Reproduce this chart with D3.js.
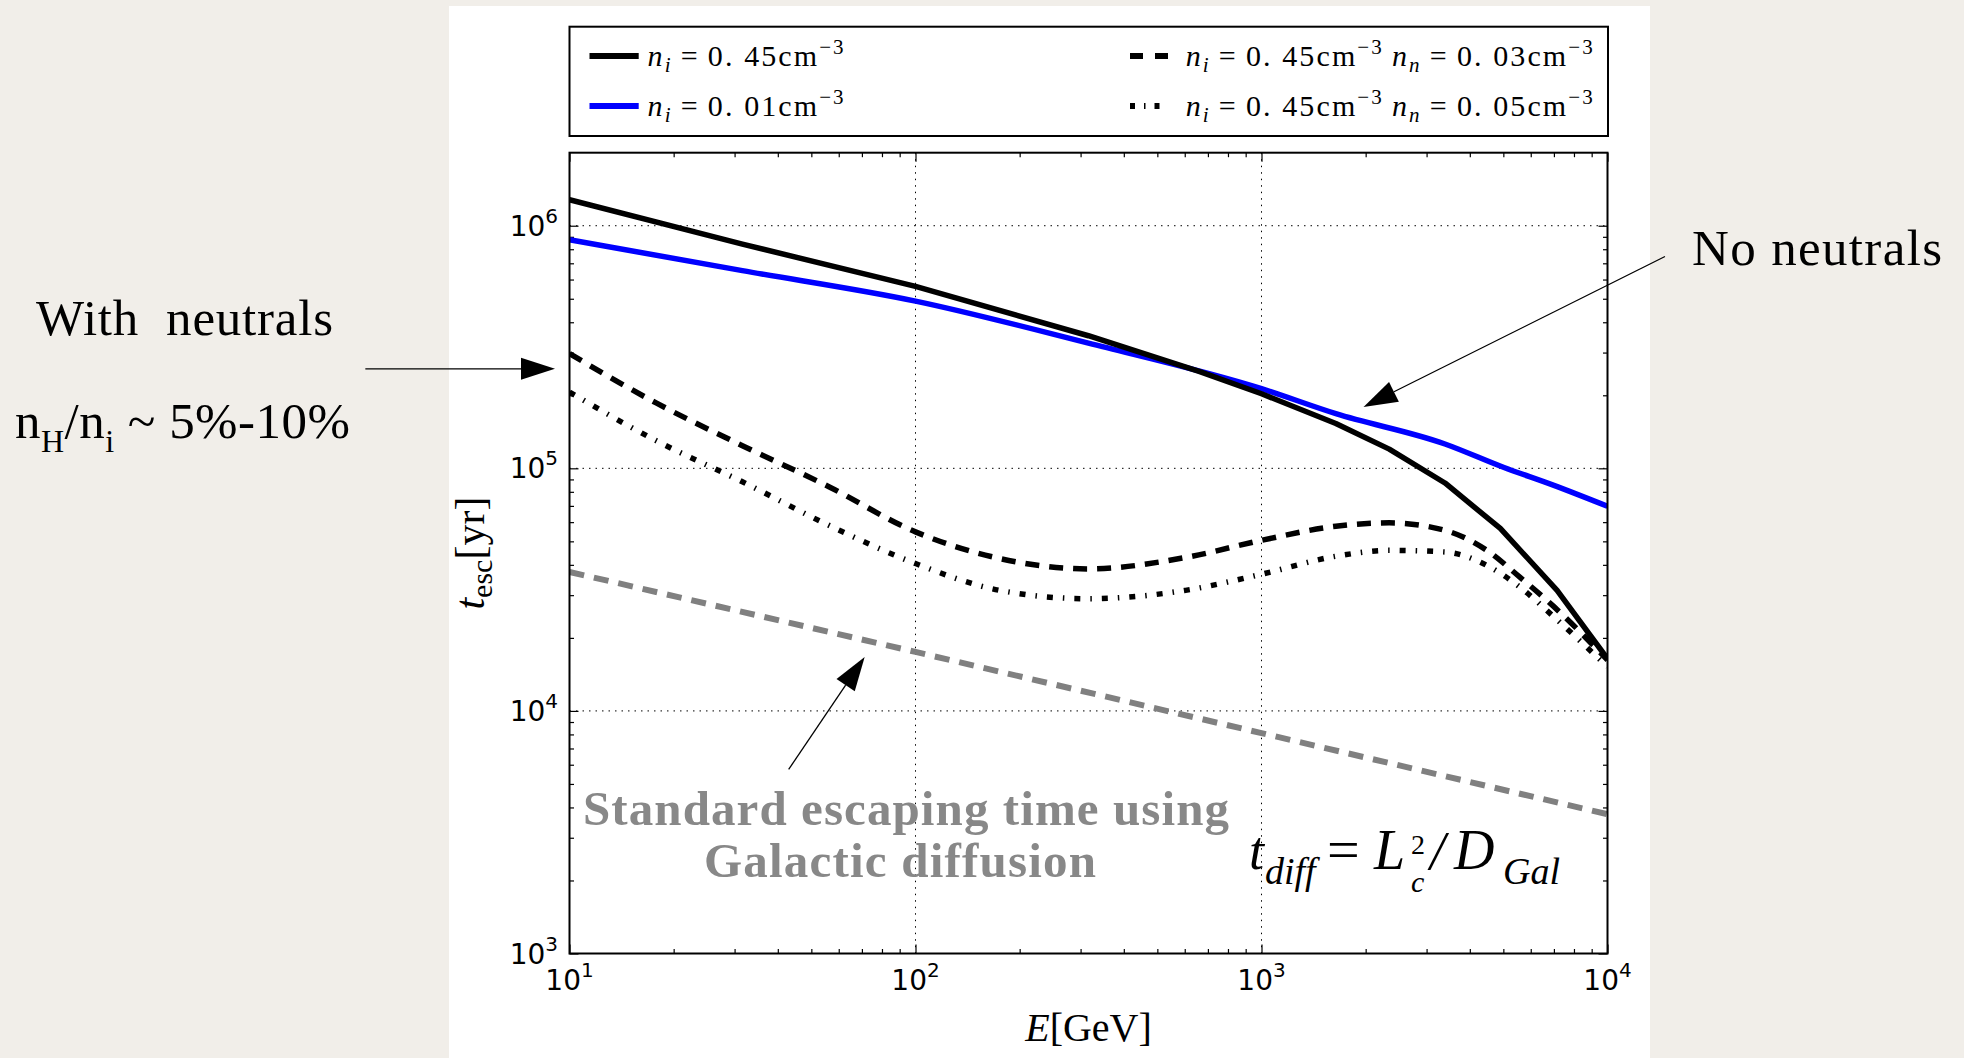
<!DOCTYPE html>
<html><head><meta charset="utf-8">
<script src="https://cdn.jsdelivr.net/npm/d3@7"></script>
<style>
html,body{margin:0;padding:0;background:#f1eee9;}
svg{display:block;}
</style>
</head><body>
<svg id="chart" width="1964" height="1058"></svg>
<script>
// ---------------- data ----------------
const energyNoNeutralDense = [10, 31.6, 100, 316, 660, 1000, 1640, 2340, 3390, 4900, 7150, 10000];
const tescNi045 = [1.28e6, 8.4e5, 5.62e5, 3.52e5, 2.51e5, 2.03e5, 1.53e5, 1.2e5, 8.7e4, 5.65e4, 3.14e4, 1.64e4];
const energyNoNeutralTenuous = [10, 31.6, 100, 316, 1000, 1640, 3390, 5000, 7000, 10000];
const tescNi001 = [8.75e5, 6.53e5, 4.89e5, 3.28e5, 2.13e5, 1.68e5, 1.26e5, 1.01e5, 8.5e4, 6.97e4];
const energyWithNeutrals = [10, 17.8, 31.6, 56.2, 100, 175, 316, 603, 1000, 1640, 2340, 3390, 4480, 5580, 7000, 10000];
const tescNn003 = [2.97e5, 1.86e5, 1.24e5, 8.4e4, 5.47e4, 4.25e4, 3.85e4, 4.29e4, 5.05e4, 5.77e4, 5.96e4, 5.55e4, 4.59e4, 3.56e4, 2.69e4, 1.62e4];
const tescNn005 = [2.06e5, 1.30e5, 8.8e4, 5.82e4, 4.05e4, 3.14e4, 2.9e4, 3.14e4, 3.66e4, 4.34e4, 4.59e4, 4.52e4, 3.98e4, 3.24e4, 2.44e4, 1.52e4];
const energyGalactic = [10, 100, 1000, 10000];
const tescGalactic = [3.74e4, 1.75e4, 8.1e3, 3.75e3];

const xTickValues = [10, 100, 1000, 10000];
const xTickExponents = ["1", "2", "3", "4"];
const yTickValues = [1e3, 1e4, 1e5, 1e6];
const yTickExponents = ["3", "4", "5", "6"];

const legendLeft = [
  {ni: "0. 45", color: "#000000"},
  {ni: "0. 01", color: "#0000ff"}
];
const legendRight = [
  {ni: "0. 45", nn: "0. 03", dash: "13,12"},
  {ni: "0. 45", nn: "0. 05", dash: "5,9,1.5,9"}
];

// ---------------- layout ----------------
const svg = d3.select("#chart");
const W = 1964, H = 1058;
const plot = {left: 569.5, right: 1607.5, top: 152.7, bottom: 953.5};

svg.append("rect").attr("x", 449).attr("y", 6).attr("width", 1201).attr("height", H - 6).attr("fill", "#ffffff");

const x = d3.scaleLog().domain([10, 1e4]).range([plot.left, plot.right]);
const y = d3.scaleLog().domain([1e3, 2e6]).range([plot.bottom, plot.top]);

const serif = "'Liberation Serif', 'Times New Roman', serif";
const sans = "'DejaVu Sans', sans-serif";

svg.append("defs").append("clipPath").attr("id", "plotclip")
  .append("rect").attr("x", plot.left).attr("y", plot.top)
  .attr("width", plot.right - plot.left).attr("height", plot.bottom - plot.top);

// grid
const grid = svg.append("g");
grid.selectAll("line.gx").data(xTickValues).join("line")
  .attr("x1", d => x(d)).attr("x2", d => x(d)).attr("y1", plot.top).attr("y2", plot.bottom)
  .attr("stroke", "#000").attr("stroke-width", 1).attr("stroke-dasharray", "1.5,5");
grid.selectAll("line.gy").data(yTickValues).join("line")
  .attr("y1", d => y(d)).attr("y2", d => y(d)).attr("x1", plot.left).attr("x2", plot.right)
  .attr("stroke", "#000").attr("stroke-width", 1).attr("stroke-dasharray", "1.5,5");

// ticks via d3 axes (inward)
function minorTicks(lo, hi) {
  const out = [];
  for (let d = lo; d < hi; d *= 10) for (let k = 2; k <= 9; k++) if (d * k < hi) out.push(d * k);
  return out;
}
const xMinor = minorTicks(10, 1e4);
const yMinor = minorTicks(1e3, 2e6);
function styleAxis(g) { g.select(".domain").remove(); g.selectAll("text").remove(); g.selectAll("line").attr("stroke", "#000").attr("stroke-width", 1.2); }
svg.append("g").attr("transform", `translate(0,${plot.bottom})`).call(d3.axisBottom(x).tickValues(xTickValues).tickSize(-9)).call(styleAxis);
svg.append("g").attr("transform", `translate(0,${plot.bottom})`).call(d3.axisBottom(x).tickValues(xMinor).tickSize(-4.5)).call(styleAxis);
svg.append("g").attr("transform", `translate(0,${plot.top})`).call(d3.axisTop(x).tickValues(xTickValues).tickSize(-9)).call(styleAxis);
svg.append("g").attr("transform", `translate(0,${plot.top})`).call(d3.axisTop(x).tickValues(xMinor).tickSize(-4.5)).call(styleAxis);
svg.append("g").attr("transform", `translate(${plot.left},0)`).call(d3.axisLeft(y).tickValues(yTickValues).tickSize(-9)).call(styleAxis);
svg.append("g").attr("transform", `translate(${plot.left},0)`).call(d3.axisLeft(y).tickValues(yMinor).tickSize(-4.5)).call(styleAxis);
svg.append("g").attr("transform", `translate(${plot.right},0)`).call(d3.axisRight(y).tickValues(yTickValues).tickSize(-9)).call(styleAxis);
svg.append("g").attr("transform", `translate(${plot.right},0)`).call(d3.axisRight(y).tickValues(yMinor).tickSize(-4.5)).call(styleAxis);

// tick labels
const xl = svg.append("g").attr("font-family", sans).attr("font-size", 28).attr("fill", "#000");
xTickValues.forEach((v, i) => {
  const t = xl.append("text").attr("x", x(v)).attr("y", 990).attr("text-anchor", "middle");
  t.append("tspan").text("10");
  t.append("tspan").attr("font-size", 20).attr("dy", -13).text(xTickExponents[i]);
});
yTickValues.forEach((v, i) => {
  const t = xl.append("text").attr("x", 558).attr("y", y(v) + 10).attr("text-anchor", "end");
  t.append("tspan").text("10");
  t.append("tspan").attr("font-size", 20).attr("dy", -13).text(yTickExponents[i]);
});

// series
const lineGen = (curve) => d3.line().x(d => x(d[0])).y(d => y(d[1])).curve(curve);
const zip = (a, b) => a.map((v, i) => [v, b[i]]);
const series = [
  {data: zip(energyGalactic, tescGalactic), color: "#808080", width: 6, dash: "15,10", curve: d3.curveLinear},
  {data: zip(energyWithNeutrals, tescNn005), color: "#000", width: 5.5, dash: "6,10,1.5,10", curve: d3.curveMonotoneX},
  {data: zip(energyWithNeutrals, tescNn003), color: "#000", width: 5.5, dash: "14,10", curve: d3.curveMonotoneX},
  {data: zip(energyNoNeutralTenuous, tescNi001), color: "#0000ff", width: 5.5, dash: null, curve: d3.curveMonotoneX},
  {data: zip(energyNoNeutralDense, tescNi045), color: "#000", width: 5.5, dash: null, curve: d3.curveLinear}
];
const lg = svg.append("g").attr("clip-path", "url(#plotclip)");
series.forEach(s => {
  lg.append("path").attr("d", lineGen(s.curve)(s.data)).attr("fill", "none")
    .attr("stroke", s.color).attr("stroke-width", s.width)
    .attr("stroke-dasharray", s.dash).attr("stroke-linejoin", "round");
});

// frame
svg.append("rect").attr("x", plot.left).attr("y", plot.top).attr("width", plot.right - plot.left)
  .attr("height", plot.bottom - plot.top).attr("fill", "none").attr("stroke", "#000").attr("stroke-width", 2);

// axis labels
const yLab = svg.append("text").attr("transform", `translate(484,${(plot.top + plot.bottom) / 2}) rotate(-90)`)
  .attr("text-anchor", "middle").attr("font-family", serif).attr("font-size", 42);
yLab.append("tspan").attr("font-style", "italic").text("t");
yLab.append("tspan").attr("font-size", 30).attr("dy", 8).text("esc");
yLab.append("tspan").attr("dy", -8).text("[yr]");
const xLab = svg.append("text").attr("x", (plot.left + plot.right) / 2).attr("y", 1041)
  .attr("text-anchor", "middle").attr("font-family", serif).attr("font-size", 40);
xLab.append("tspan").attr("font-style", "italic").text("E");
xLab.append("tspan").text("[GeV]");

// legend
const legend = svg.append("g");
legend.append("rect").attr("x", 569.5).attr("y", 26.7).attr("width", 1038.5).attr("height", 109.3)
  .attr("fill", "#fff").attr("stroke", "#000").attr("stroke-width", 2);
const rowY = [56, 106];
function mathLabel(g, xPos, yPos, parts, len) {
  const t = g.append("text").attr("x", xPos).attr("y", yPos).attr("font-family", serif).attr("font-size", 30)
    .attr("textLength", len).attr("lengthAdjust", "spacing");
  parts.forEach(p => {
    const ts = t.append("tspan").text(p.t);
    if (p.it) ts.attr("font-style", "italic");
    if (p.size) ts.attr("font-size", p.size);
    if (p.dy) ts.attr("dy", p.dy);
  });
}
function densityParts(sym, val, lead) {
  return [{t: "n", it: 1, dy: lead || 0}, {t: sym, it: 1, size: 21, dy: 6}, {t: "\u2009=\u2009" + val + "cm", dy: -6}, {t: "\u22123", size: 21, dy: -12}];
}
legendLeft.forEach((d, i) => {
  legend.append("line").attr("x1", 589.5).attr("x2", 638.7).attr("y1", rowY[i]).attr("y2", rowY[i])
    .attr("stroke", d.color).attr("stroke-width", 6);
  mathLabel(legend, 647.6, rowY[i] + 10, densityParts("i", d.ni), 196);
});
legendRight.forEach((d, i) => {
  legend.append("line").attr("x1", 1130).attr("x2", 1168).attr("y1", rowY[i]).attr("y2", rowY[i])
    .attr("stroke", "#000").attr("stroke-width", 6).attr("stroke-dasharray", d.dash);
  const parts = densityParts("i", d.ni).concat(densityParts("n", d.nn, 12));
  parts[4].t = "\u2009n";
  mathLabel(legend, 1185.7, rowY[i] + 10, parts, 407);
});

// ---------------- slide annotations ----------------
const ann = svg.append("g");
function arrow(x1, y1, x2, y2) {
  const ang = Math.atan2(y2 - y1, x2 - x1), L = 34, hw = 11;
  const bx = x2 - L * Math.cos(ang), by = y2 - L * Math.sin(ang);
  ann.append("line").attr("x1", x1).attr("y1", y1).attr("x2", bx).attr("y2", by).attr("stroke", "#000").attr("stroke-width", 1.3);
  const px = -Math.sin(ang) * hw, py = Math.cos(ang) * hw;
  ann.append("path").attr("d", `M${x2},${y2}L${bx + px},${by + py}L${bx - px},${by - py}Z`).attr("fill", "#000");
}
// arrow ends expressed in data space (scales extrapolate outside the axes)
arrow(x(2.57), y(2.57e5), x(9.08), y(2.57e5));
arrow(x(14660), y(7.47e5), x(1972), y(1.79e5));
arrow(x(43), y(5.74e3), x(71.3), y(1.67e4));

const slideFont = serif;
ann.append("text").attr("x", 36).attr("y", 335).attr("font-family", slideFont).attr("font-size", 51)
  .attr("textLength", 297).attr("lengthAdjust", "spacing").text("With\u00a0\u00a0neutrals");
const nh = ann.append("text").attr("x", 15).attr("y", 438).attr("font-family", slideFont).attr("font-size", 51)
  .attr("textLength", 335).attr("lengthAdjust", "spacing");
nh.append("tspan").text("n");
nh.append("tspan").attr("font-size", 32).attr("dy", 14).text("H");
nh.append("tspan").attr("dy", -14).text("/n");
nh.append("tspan").attr("font-size", 32).attr("dy", 14).text("i");
nh.append("tspan").attr("dy", -14).text(" ~ 5%-10%");
ann.append("text").attr("x", 1692).attr("y", 265).attr("font-family", slideFont).attr("font-size", 51)
  .attr("textLength", 250).attr("lengthAdjust", "spacing").text("No neutrals");

const gray = ann.append("g").attr("font-family", slideFont).attr("font-size", 49).attr("font-weight", "bold")
  .attr("fill", "#888888").attr("text-anchor", "middle");
gray.append("text").attr("x", 906).attr("y", 825).attr("textLength", 646).attr("lengthAdjust", "spacing").text("Standard escaping time using");
gray.append("text").attr("x", 900).attr("y", 877).attr("textLength", 392).attr("lengthAdjust", "spacing").text("Galactic diffusion");

// formula t_diff = L_c^2 / D_Gal
const f = ann.append("g").attr("font-family", serif).attr("fill", "#000");
f.append("text").attr("x", 1249).attr("y", 869).attr("font-size", 54).attr("font-style", "italic").text("t");
f.append("text").attr("x", 1265).attr("y", 884).attr("font-size", 38).attr("font-style", "italic").text("diff");
f.append("text").attr("x", 1327).attr("y", 869).attr("font-size", 58).text("=");
f.append("text").attr("x", 1374).attr("y", 869).attr("font-size", 56).attr("font-style", "italic").text("L");
f.append("text").attr("x", 1411).attr("y", 854).attr("font-size", 28).text("2");
f.append("text").attr("x", 1411).attr("y", 892).attr("font-size", 30).attr("font-style", "italic").text("c");
f.append("text").attr("x", 1430).attr("y", 869).attr("font-size", 54).attr("font-style", "italic").text("/");
f.append("text").attr("x", 1454).attr("y", 869).attr("font-size", 56).attr("font-style", "italic").text("D");
f.append("text").attr("x", 1503).attr("y", 884).attr("font-size", 38).attr("font-style", "italic").text("Gal");
</script>
</body></html>
